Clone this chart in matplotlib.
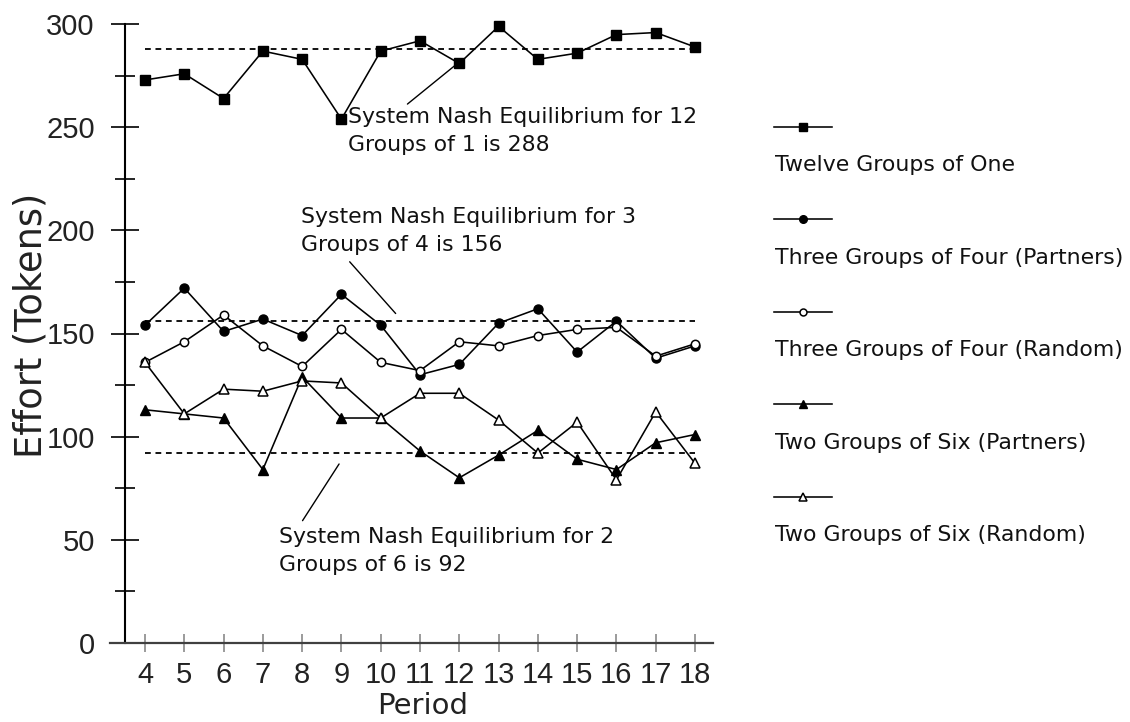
import matplotlib
matplotlib.use("Agg")
import matplotlib.pyplot as plt
from matplotlib.transforms import offset_copy

# ---------------- data ----------------
periods = [4, 5, 6, 7, 8, 9, 10, 11, 12, 13, 14, 15, 16, 17, 18]
twelve_one = [273, 276, 264, 287, 283, 254, 287, 292, 281, 299, 283, 286, 295, 296, 289]
three_four_partners = [154, 172, 151, 157, 149, 169, 154, 130, 135, 155, 162, 141, 156, 138, 144]
three_four_random = [136, 146, 159, 144, 134, 152, 136, 132, 146, 144, 149, 152, 153, 139, 145]
two_six_partners = [113, 111, 109, 84, 129, 109, 109, 93, 80, 91, 103, 89, 84, 97, 101]
two_six_random = [136, 111, 123, 122, 127, 126, 109, 121, 121, 108, 92, 107, 79, 112, 87]

series_names = ["Twelve Groups of One",
                "Three Groups of Four (Partners)",
                "Three Groups of Four (Random)",
                "Two Groups of Six (Partners)",
                "Two Groups of Six (Random)"]

nash_values = [288, 156, 92]
nash_texts = [("System Nash Equilibrium for 12", "Groups of 1 is 288"),
              ("System Nash Equilibrium for 3", "Groups of 4 is 156"),
              ("System Nash Equilibrium for 2", "Groups of 6 is 92")]

y_ticks_major = [0, 50, 100, 150, 200, 250, 300]
y_ticks_minor = [25, 75, 125, 175, 225, 275]

# ---------------- styles ----------------
TXT_FONT = "DejaVu Sans"
TICK_FONT = "Liberation Sans"
styles = [
    dict(marker="s", ms=6.5, mfc="black", mec="black"),
    dict(marker="o", ms=6.5, mfc="black", mec="black"),
    dict(marker="o", ms=6.0, mfc="white", mec="black", mew=1.1),
    dict(marker="^", ms=7.0, mfc="black", mec="black"),
    dict(marker="^", ms=7.0, mfc="white", mec="black", mew=1.1),
]
series = [twelve_one, three_four_partners, three_four_random,
          two_six_partners, two_six_random]

W, H = 1130, 722
fig = plt.figure(figsize=(W / 100, H / 100), dpi=100)
ax = fig.add_axes([110 / W, (H - 642.7) / H, (713 - 110) / W, (642.7 - 24.3) / H])

for vals, st in zip(series, styles):
    ax.plot(periods, vals, color="black", lw=1.15, clip_on=False, zorder=3, **st)

for nv in nash_values:
    ax.plot([periods[0], periods[-1]], [nv, nv], color="black", lw=1.3,
            dashes=(3.2, 2.6), zorder=2)

# annotations: (text left x, baseline y, pointer start, pointer end)
ann_layout = [
    (9.16, 252.0, (10.68, 261.3), (12.05, 282.5)),
    (7.98, 203.4, (9.21, 184.8), (10.38, 159.7)),
    (7.41, 48.5, (8.01, 59.2), (8.94, 86.7)),
]
for (l1, l2), (tx, ty, p0, p1) in zip(nash_texts, ann_layout):
    ax.text(tx, ty, l1, fontsize=15.8, family=TXT_FONT, va="baseline", ha="left",
            color="#111111", zorder=5)
    tr = offset_copy(ax.transData, fig=fig, x=0, y=-28, units="dots")
    ax.text(tx, ty, l2, fontsize=15.8, family=TXT_FONT, va="baseline", ha="left",
            color="#111111", transform=tr, zorder=5)
    ax.annotate("", xy=p1, xytext=p0,
                arrowprops=dict(arrowstyle="-", color="black", lw=1.0,
                                shrinkA=0, shrinkB=0))

# axes
ax.set_xlim(3.109, 18.458)
ax.set_ylim(0, 300)
ax.spines["top"].set_visible(False)
ax.spines["right"].set_visible(False)
ax.spines["left"].set_position(("data", 3.491))
ax.spines["left"].set_linewidth(1.5)
ax.spines["left"].set_color("black")
ax.spines["bottom"].set_linewidth(1.6)
ax.spines["bottom"].set_color("#404040")

ax.set_yticks(y_ticks_major)
ax.set_yticks(y_ticks_minor, minor=True)
ax.set_xticks(periods)
ax.set_xticklabels([str(p) for p in periods])
ax.tick_params(axis="y", which="major", direction="inout", length=19.5, width=1.2,
               color="black", pad=12, labelsize=21)
ax.tick_params(axis="y", which="minor", direction="inout", length=14.5, width=1.2,
               color="black")
ax.tick_params(axis="x", which="major", direction="inout", length=12.5, width=1.2,
               color="#8a8a8a", pad=7, labelsize=21)
for lab in ax.get_xticklabels() + ax.get_yticklabels():
    lab.set_family(TICK_FONT)
    lab.set_color("#222222")

ax.set_ylabel("Effort (Tokens)", fontsize=26.5, family=TXT_FONT, color="#222222",
              va="center")
ax.yaxis.set_label_coords((31 - 110) / 603, (642.7 - 325) / 618.4)
ax.set_xlabel("Period", fontsize=21, family=TXT_FONT, color="#222222", va="center")
ax.xaxis.set_label_coords((422.5 - 110) / 603, (642.7 - 706) / 618.4)

# custom legend (line sample above its text)
lax = fig.add_axes([0, 0, 1, 1])
lax.set_xlim(0, W)
lax.set_ylim(H, 0)
lax.axis("off")
for i, (name, st) in enumerate(zip(series_names, styles)):
    y_line = 126.7 + i * 92.5
    lst = dict(st)
    lst["ms"] = st["ms"] - 1.0
    lax.plot([774, 803, 832], [y_line, y_line, y_line], color="black", lw=1.15,
             markevery=[1], **lst)
    lax.text(775, y_line + 38.5, name, fontsize=15.8, family=TXT_FONT,
             va="center", ha="left", color="#111111")

fig.savefig("out.png", dpi=100)
